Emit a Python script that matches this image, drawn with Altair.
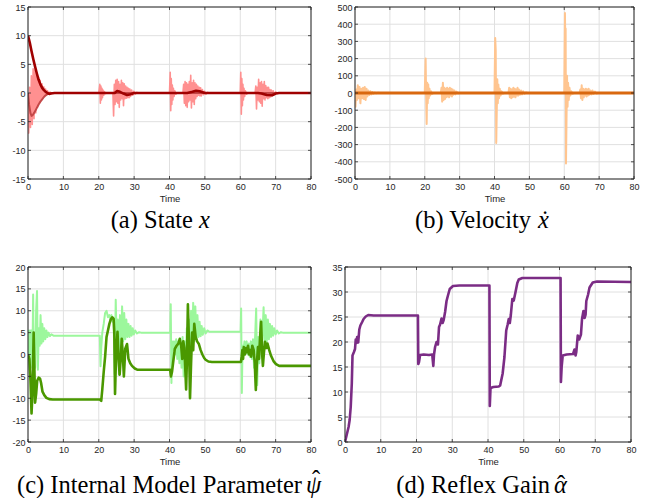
import altair as alt
import pandas as pd

# ---------------- Panel (a) State x ----------------
a_light_t = [0, 0.2, 0.45, 0.7, 0.95, 1.2, 1.45, 1.7, 1.95, 2.2, 2.45, 2.7, 2.95, 3.2, 3.45, 3.7, 3.95, 4.2, 4.45, 4.7, 4.95, 5.2, 5.5, 5.8, 6.2, 6.6, 7.0,
             20.0, 20.3, 20.45, 20.6, 20.75, 20.9, 21.05, 21.2, 21.4, 21.6, 21.9, 22.3,
             24.0, 24.2, 24.4, 24.6, 24.8, 25.0, 25.2, 25.4, 25.6, 25.8, 26.0, 26.2, 26.4, 26.6, 26.8, 27.0, 27.2, 27.4, 27.6, 27.8, 28.0, 28.2, 28.4, 28.6, 28.8, 29.0, 29.3, 29.6, 29.9, 30.3, 30.8, 31.5,
             40.0, 40.2, 40.35, 40.5, 40.65, 40.8, 40.95, 41.1, 41.3, 41.5, 41.8, 42.2,
             43.8, 44.0, 44.2, 44.4, 44.6, 44.8, 45.0, 45.2, 45.4, 45.6, 45.8, 46.0, 46.2, 46.4, 46.6, 46.8, 47.0, 47.2, 47.4, 47.6, 47.8, 48.0, 48.2, 48.4, 48.6, 48.8, 49.0, 49.3, 49.6, 49.9, 50.3, 50.8, 51.4,
             60.0, 60.15, 60.3, 60.45, 60.6, 60.75, 60.9, 61.05, 61.25, 61.45, 61.8, 62.2,
             64.2, 64.4, 64.6, 64.8, 65.0, 65.2, 65.4, 65.6, 65.8, 66.0, 66.2, 66.4, 66.6, 66.8, 67.0, 67.2, 67.4, 67.6, 67.8, 68.0, 68.2, 68.4, 68.6, 68.8, 69.0, 69.3, 69.6, 70.0, 70.4, 71.0, 80.0]
a_light_v = [0, -7, 1, -6, 3, -5.5, 4.2, -4.5, 4, -3.5, 3.5, -2.5, 2.8, -1.8, 2.2, -1.2, 1.6, -0.8, 1.1, -0.5, 0.7, -0.3, 0.4, -0.15, 0.15, 0, 0,
             0, 1.5, -1.8, 1.2, -1.2, 0.8, -0.8, 0.5, -0.4, 0.25, -0.1, 0,
             0, -4.0, 1.5, -2.0, 2.2, -1.5, 2.4, -1.8, 2.0, -2.5, 1.5, -1.2, 2.2, -1.0, 1.8, -2.2, 1.6, -1.0, 1.2, -0.9, 1.0, -0.8, 0.8, -0.8, 0.7, -0.6, 0.5, -0.4, 0.3, -0.2, 0.1, 0,
             0, 3.6, -3.1, 2.5, -2.0, 1.4, -1.2, 0.8, -0.6, 0.4, -0.2, 0,
             0, 1.5, -1.8, 2.0, -2.2, 1.8, -2.5, 1.5, -1.5, 2.0, -1.2, 3.1, -2.6, 1.8, -1.5, 2.2, -2.0, 1.8, -1.0, 1.5, -0.6, 1.2, -0.4, 1.0, -0.5, 0.9, -0.5, 0.6, -0.3, 0.3, -0.2, 0.1, 0,
             0, 3.6, -3.7, 2.5, -2.2, 1.5, -1.2, 0.8, -0.6, 0.4, -0.2, 0,
             0, 1.2, -2.8, 1.0, -1.2, 2.4, -1.5, 1.8, -1.8, 2.0, -2.3, 1.5, -1.0, 2.0, -1.2, 1.3, -0.8, 1.0, -1.0, 1.0, -0.8, 0.6, -0.7, 0.5, -0.5, 0.4, -0.3, 0.2, -0.1, 0, 0]
a_mid_t = [0, 0.3, 0.7, 1.0, 1.4, 2.0, 2.5, 3.0, 3.5, 4.0, 4.5, 5.0, 5.5, 6.0, 7.0, 80.0]
a_mid_v = [0, -2.0, -3.5, -4.0, -3.8, -3.2, -2.6, -2.0, -1.5, -1.1, -0.7, -0.4, -0.2, -0.05, 0, 0]
a_dark_t = [0, 0.5, 1.0, 1.5, 2.0, 2.5, 3.0, 3.5, 4.0, 4.5, 5.0, 5.5, 6.0, 6.5, 7.5, 24.5, 25.2, 26.0, 27.0, 28.0, 29.0, 30.0,
            45.0, 46.5, 47.5, 48.5, 50.0, 65.0, 66.0, 67.5, 69.0, 70.0, 71.0, 80.0]
a_dark_v = [10, 8.8, 7.3, 5.9, 4.6, 3.4, 2.3, 1.5, 0.9, 0.5, 0.2, 0.0, -0.15, -0.1, 0, 0, 0.35, 0.2, -0.1, -0.35, -0.2, 0,
            0, 0.2, 0.4, 0.3, 0, 0, -0.1, -0.35, -0.4, -0.1, 0, 0]

# ---------------- Panel (b) Velocity ----------------
b_light_t = [0, 0.15, 0.35, 0.55, 0.8, 1.05, 1.3, 1.55, 1.8, 2.05, 2.3, 2.55, 2.8, 3.05, 3.3, 3.55, 3.8, 4.1, 4.4, 4.7, 5.0, 5.3, 5.7, 6.1, 6.6, 7.2,
             20.0, 20.25, 20.4, 20.55, 20.7, 20.85, 21.0, 21.15, 21.35, 21.55, 21.8, 22.1, 22.5,
             24.6, 24.8, 25.0, 25.2, 25.4, 25.6, 25.8, 26.0, 26.2, 26.4, 26.6, 26.8, 27.0, 27.2, 27.4, 27.6, 27.8, 28.0, 28.2, 28.5, 28.8, 29.1, 29.5, 30.0,
             40.0, 40.2, 40.35, 40.5, 40.65, 40.8, 40.95, 41.1, 41.3, 41.5, 41.75, 42.0, 42.4, 42.8,
             44.0, 44.2, 44.4, 44.6, 44.8, 45.0, 45.2, 45.4, 45.6, 45.8, 46.0, 46.2, 46.4, 46.6, 46.8, 47.0, 47.3, 47.6, 47.9, 48.2, 48.6, 49.0, 49.5,
             60.0, 60.2, 60.3, 60.4, 60.5, 60.65, 60.8, 60.95, 61.1, 61.3, 61.5, 61.75, 62.0, 62.4, 62.8,
             64.4, 64.6, 64.8, 65.0, 65.2, 65.4, 65.6, 65.8, 66.0, 66.2, 66.4, 66.6, 66.8, 67.0, 67.2, 67.5, 67.8, 68.1, 68.4, 68.8, 69.2, 69.8, 80.0]
b_light_v = [0, -80, 20, -40, 45, -30, 35, -60, 25, -30, 30, -35, 35, -40, 25, -20, 15, -12, 10, -8, 6, -4, 3, -2, 1, 0,
             0, 200, -20, -180, 60, -60, 50, -30, 25, -15, 10, -5, 0,
             0, 30, -50, 60, -40, 30, -35, 25, -25, 30, -20, 25, -25, 30, -15, 25, -20, 20, -10, 15, -8, 8, -3, 0,
             0, 320, 250, -290, -100, 80, -60, 50, -30, 25, -15, 10, -4, 0,
             0, 30, -25, 25, -30, 20, -25, 30, -20, 25, -25, 20, -15, 30, -15, 20, -10, 15, -8, 10, -4, 3, 0,
             0, 465, 300, 375, -410, -150, 100, -80, 60, -40, 30, -15, 10, -4, 0,
             0, 20, -30, 45, -40, 25, -25, 20, -15, 25, -20, 20, -15, 25, -10, 15, -8, 15, -5, 8, -3, 0, 0]
b_dark_t = [0, 20, 40, 60, 80]
b_dark_v = [0, 0, 0, 0, 0]

# ---------------- Panel (c) Internal Model Parameter ----------------
c_light_t = [0, 0.25, 0.45, 0.65, 0.85, 1.05, 1.25, 1.45, 1.65, 1.85, 2.05, 2.3, 2.55, 2.8, 3.05, 3.3, 3.55, 3.8, 4.05, 4.3, 4.6, 4.9, 5.2, 5.5, 5.8, 6.2, 6.6, 7.2,
             20.3, 20.5, 20.7, 21.0, 21.4, 21.8, 22.2, 22.6, 23.0, 23.3, 23.6, 23.9, 24.2, 24.5, 24.8, 25.1, 25.4, 25.7, 26.0, 26.3, 26.6, 26.9, 27.2, 27.5, 27.8, 28.1, 28.4, 28.7, 29.0, 29.3, 29.6, 29.9, 30.3, 30.8, 31.4, 32.0,
             40.2, 40.35, 40.55, 40.75, 41.0, 41.3, 41.6, 41.9, 42.2, 42.5, 42.8, 43.1, 43.4, 43.7, 44.0, 44.3, 44.6, 44.9, 45.2, 45.5, 45.8, 46.1, 46.4, 46.7, 47.0, 47.3, 47.6, 47.9, 48.2, 48.5, 48.8, 49.1, 49.4, 49.8, 50.2, 50.7, 51.3,
             60.1, 60.25, 60.45, 60.65, 60.9, 61.2, 61.5, 61.8, 62.1, 62.4, 62.7, 63.0, 63.3, 63.6, 63.9, 64.2, 64.5, 64.8, 65.1, 65.4, 65.7, 66.0, 66.3, 66.6, 66.9, 67.2, 67.5, 67.8, 68.1, 68.4, 68.7, 69.0, 69.3, 69.6, 70.0, 70.4, 70.9, 71.5, 72.0, 80.0]
c_light_v = [0, 5.5, -3.5, 5.5, -3.0, 5.5, -2.0, 13.7, -3.5, 4.0, -3.0, 10.0, 14.5, -3.5, 6.0, 2.0, 9.0, 2.5, 7.0, 3.0, 6.0, 3.5, 5.5, 4.0, 5.0, 4.2, 4.6, 4.3,
             4.3, -2.7, 1.5, 5.0, 7.0, 9.5, 10.0, 8.5, 9.0, 8.0, 9.0, 7.5, 8.0, -4.5, 12.5, 2.0, 8.0, -4.5, 9.0, 0.5, 11.0, 3.0, 9.5, 3.5, 8.0, 4.0, 7.0, 4.0, 6.5, 4.3, 6.0, 4.6, 5.5, 4.8, 5.1, 5.0,
             5.0, 11.5, -6.5, 3.0, 1.0, 3.0, 0.0, 3.5, -1.0, 3.0, -2.0, 2.5, -3.0, 4.0, -5.0, 3.0, -2.0, 6.0, 0.0, 8.0, 1.0, 10.0, 2.0, 11.8, 3.0, 11.0, 3.5, 9.0, 4.0, 7.5, 4.2, 6.5, 4.5, 6.0, 4.8, 5.5, 5.2,
             5.2, 10.5, -8.8, 2.0, 1.0, 3.0, 0.5, 3.0, 0.0, 2.5, -0.5, 3.0, -1.0, 3.5, -3.0, 4.0, 10.5, -7.0, 4.0, -2.0, 8.0, 1.0, 5.0, 10.8, 2.0, 9.0, 3.0, 8.0, 3.5, 7.0, 4.0, 6.5, 4.3, 6.0, 4.6, 5.5, 4.8, 5.1, 5.0, 5.0]
c_dark_t = [0, 0.4, 0.7, 1.0, 1.3, 1.6, 1.8, 2.0, 2.3, 2.6, 3.0, 3.4, 3.7, 4.1, 4.6, 5.2, 6.0, 7.0,
            20.3, 20.7, 21.0, 21.4, 21.8, 22.2, 22.6, 23.0, 23.4, 23.8, 24.2, 24.4, 24.6, 24.9, 25.3, 25.6, 25.9, 26.2, 26.5, 26.8, 27.1, 27.5, 28.0, 28.4, 28.9, 29.4, 30.2, 31.0,
            40.2, 40.4, 40.7, 41.0, 41.5, 42.0, 42.5, 42.9, 43.3, 43.6, 43.9, 44.2, 44.5, 44.7, 44.9, 45.2, 45.5, 45.8, 46.1, 46.4, 46.7, 47.0, 47.4, 47.8, 48.3, 48.8, 49.3, 49.8, 50.2, 51.0, 52.0,
            60.2, 60.4, 60.6, 60.8, 61.0, 61.3, 61.6, 61.9, 62.2, 62.5, 62.8, 63.1, 63.4, 63.8, 64.1, 64.4, 64.7, 65.0, 65.3, 65.6, 65.9, 66.2, 66.4, 66.7, 67.0, 67.4, 67.7, 68.2, 68.7, 69.4, 70.1, 71.0, 80.0]
c_dark_v = [0, -1.0, -6.0, -13.5, -8.0, 5.0, -3.0, -11.0, -9.0, -6.0, -5.3, -5.5, -6.5, -8.5, -9.3, -9.9, -10.2, -10.3,
            -10.3, -10.6, -8.0, -4.0, -0.5, 4.0, 5.5, 7.0, 8.0, 8.5, 8.2, 5.0, -9.0, 0.0, 5.2, -1.0, -4.6, -1.0, 3.6, 0.0, -5.0, 1.3, 2.4, -1.0, -2.0, -2.6, -3.2, -3.5,
            -3.5, -5.0, -4.0, -2.0, 1.3, 2.0, 2.5, 3.6, 2.0, -1.0, 3.0, 1.5, -4.0, -8.0, -2.0, 11.5, 3.0, -10.0, -2.0, 5.0, 1.0, 7.0, 4.0, 3.0, 2.4, 1.0, 0.0, -0.8, -1.2, -1.6, -1.7,
            -1.7, -0.5, 1.0, -1.0, 1.7, 0.0, 1.5, 0.5, 2.0, 0.0, 1.0, -0.5, 2.0, 1.0, -2.0, -8.1, -2.0, 1.7, -1.0, 4.0, 7.5, 0.0, -2.6, 0.5, 2.9, 1.5, 2.5, 1.0, -0.3, -1.5, -2.2, -2.6, -2.6]

# ---------------- Panel (d) Reflex Gain ----------------
d_t = [0, 0.5, 1.0, 1.3, 1.6, 1.9, 2.1, 2.5, 2.8, 3.0, 3.2, 3.4, 3.7, 4.0, 4.3, 4.8, 5.2, 5.8, 6.5, 8.0,
       20.4, 20.5, 20.7, 21.0, 22.0, 23.5, 24.4, 24.7, 24.9, 25.2, 25.6, 26.0, 26.3, 26.6, 27.0, 27.3, 27.6, 28.0, 28.4, 28.8, 29.3, 30.2, 32.0,
       40.4, 40.5, 40.7, 41.5, 43.0, 43.4, 44.1, 44.6, 45.1, 45.5, 45.8, 46.1, 46.4, 46.8, 47.2, 47.7, 48.2, 48.6, 49.6,
       60.3, 60.4, 60.6, 60.9, 62.0, 63.8, 64.2, 64.5, 64.7, 65.1, 65.5, 66.0, 66.3, 66.7, 67.0, 67.3, 67.5, 68.0, 68.4, 69.3, 70.5, 80.0]
d_v = [0, 1.5, 3.0, 4.4, 7.0, 11.7, 17.3, 18.0, 18.6, 20.5, 19.8, 21.0, 19.9, 22.5, 23.3, 24.0, 24.6, 25.1, 25.4, 25.3,
       25.3, 15.6, 16.0, 17.4, 17.5, 17.4, 17.5, 15.2, 17.5, 19.0, 20.0, 19.5, 23.0, 23.5, 24.7, 23.8, 24.4, 26.0, 28.2, 29.3, 30.6, 31.2, 31.3,
       31.3, 7.2, 10.8, 11.0, 11.1, 11.3, 13.7, 17.0, 22.3, 23.5, 24.6, 23.8, 25.5, 28.6, 28.3, 30.0, 31.8, 32.5, 32.8,
       32.8, 12.0, 15.0, 17.3, 17.5, 17.6, 18.5, 17.3, 18.0, 21.3, 20.5, 21.5, 24.6, 26.2, 24.8, 25.5, 28.2, 29.5, 30.9, 31.9, 32.1, 32.0]

x_ticks = [0, 10, 20, 30, 40, 50, 60, 70, 80]
a_yticks = [-15, -10, -5, 0, 5, 10, 15]
b_yticks = [-500, -400, -300, -200, -100, 0, 100, 200, 300, 400, 500]
c_yticks = [-20, -15, -10, -5, 0, 5, 10, 15, 20]
d_yticks = [0, 5, 10, 15, 20, 25, 30, 35]

# caption: roman part, italic symbol, accent placed above the symbol
cap_a = ["(a) State", "x", ""]
cap_b = ["(b) Velocity", "x", "\u02d9"]
cap_c = ["(c) Internal Model Parameter", "\u03c8", "\u02c6"]
cap_d = ["(d) Reflex Gain", "\u03b1", "\u02c6"]

AX = "#262626"
GRID = "#e0e0e0"
CAP_SIZE = 24.5


def xenc():
    return alt.X("t:Q", scale=alt.Scale(domain=[0, 80], nice=False),
                 axis=alt.Axis(values=x_ticks, title="Time", labelFlush=False, tickSize=0,
                               domain=False, grid=False,
                               labelFontSize=9, titleFontSize=9.5,
                               labelPadding=3, titlePadding=2,
                               labelExpr="'' + datum.value"))


def yenc(dom, ticks):
    return alt.Y("v:Q", scale=alt.Scale(domain=dom, nice=False),
                 axis=alt.Axis(values=ticks, title=None, tickSize=0, domain=False, grid=False,
                               labelFontSize=9, labelPadding=3, labelFlush=False,
                               labelExpr="'' + datum.value"))


def frame(dom, yticks, W, H):
    """grid lines drawn under the data"""
    xg = pd.DataFrame({"t": x_ticks})
    yg = pd.DataFrame({"v": yticks})
    vgrid = alt.Chart(xg).mark_rule(color=GRID, strokeWidth=1).encode(
        x=xenc(), y=alt.value(0), y2=alt.value(H))
    hgrid = alt.Chart(yg).mark_rule(color=GRID, strokeWidth=1).encode(
        y=yenc(dom, yticks), x=alt.value(0), x2=alt.value(W))
    return alt.layer(vgrid, hgrid)


def ticks_box(dom, yticks, W, H):
    """inward ticks on all four sides and the box around the plot area"""
    xg = pd.DataFrame({"t": x_ticks})
    yg = pd.DataFrame({"v": yticks})
    L = 3
    parts = [
        alt.Chart(xg).mark_rule(color=AX, strokeWidth=0.8).encode(
            x=xenc(), y=alt.value(H), y2=alt.value(H - L)),
        alt.Chart(xg).mark_rule(color=AX, strokeWidth=0.8).encode(
            x=xenc(), y=alt.value(0), y2=alt.value(L)),
        alt.Chart(yg).mark_rule(color=AX, strokeWidth=0.8).encode(
            y=yenc(dom, yticks), x=alt.value(0), x2=alt.value(L)),
        alt.Chart(yg).mark_rule(color=AX, strokeWidth=0.8).encode(
            y=yenc(dom, yticks), x=alt.value(W), x2=alt.value(W - L)),
        alt.Chart(pd.DataFrame({"k": [0]})).mark_rect(
            fill=None, fillOpacity=0, stroke=AX, strokeWidth=1).encode(
            x=alt.value(0), x2=alt.value(W), y=alt.value(0), y2=alt.value(H)),
    ]
    return alt.layer(*parts)


def line(t, v, color, width, dom, ticks):
    df = pd.DataFrame({"t": t, "v": v})
    return alt.Chart(df).mark_line(color=color, strokeWidth=width, clip=True,
                                   strokeJoin="round").encode(x=xenc(), y=yenc(dom, ticks))


def caption(cap, x_end, x_start, y, acc_dx, acc_dy):
    layers = []
    specs = [(cap[0], "right", "normal", x_end, y),
             (cap[1], "left", "italic", x_start, y)]
    if cap[2]:
        specs.append((cap[2], "center", "normal", x_start + acc_dx, y + acc_dy))
    for s, al, st, xx, yy in specs:
        df = pd.DataFrame({"s": [s]})
        layers.append(alt.Chart(df).mark_text(
            font="Liberation Serif", fontSize=CAP_SIZE, align=al, fontStyle=st,
            baseline="alphabetic", color="black").encode(
            text="s:N", x=alt.value(xx), y=alt.value(yy)))
    return alt.layer(*layers)


HA, HB, HC, HD = 172, 172, 175, 175
WA, WB, WC, WD = 283, 279, 283, 286

pa = alt.layer(
    frame([-15, 15], a_yticks, WA, HA),
    line(a_light_t, a_light_v, "#ff9090", 1.6, [-15, 15], a_yticks),
    line(a_mid_t, a_mid_v, "#c44848", 2.0, [-15, 15], a_yticks),
    line(a_dark_t, a_dark_v, "#a00000", 2.6, [-15, 15], a_yticks),
    ticks_box([-15, 15], a_yticks, WA, HA),
    caption(cap_a, 165, 171, HA + 49, 0, 0),
).properties(width=WA, height=HA)

pb = alt.layer(
    frame([-500, 500], b_yticks, WB, HB),
    line(b_light_t, b_light_v, "#ffc590", 2.0, [-500, 500], b_yticks),
    line(b_dark_t, b_dark_v, "#d9680f", 3.0, [-500, 500], b_yticks),
    ticks_box([-500, 500], b_yticks, WB, HB),
    caption(cap_b, 176, 183, HB + 49, 7, 0),
).properties(width=WB, height=HB)

pc = alt.layer(
    frame([-20, 20], c_yticks, WC, HC),
    line(c_light_t, c_light_v, "#9cf79c", 2.0, [-20, 20], c_yticks),
    line(c_dark_t, c_dark_v, "#4a9800", 2.6, [-20, 20], c_yticks),
    ticks_box([-20, 20], c_yticks, WC, HC),
    caption(cap_c, 274, 278, HC + 51, 10, -5),
).properties(width=WC, height=HC)

pd_ = alt.layer(
    frame([0, 35], d_yticks, WD, HD),
    line(d_t, d_v, "#7b2c85", 2.6, [0, 35], d_yticks),
    ticks_box([0, 35], d_yticks, WD, HD),
    caption(cap_d, 205, 209, HD + 51, 7, 0),
).properties(width=WD, height=HD)

row1 = alt.hconcat(pa, pb, spacing=16)
row2 = alt.hconcat(pc, pd_, spacing=9)

chart = alt.vconcat(row1, row2, spacing=30).properties(
    padding={"left": 11, "top": 3, "right": 0, "bottom": 0},
    background="white",
).configure_view(
    stroke=None
).configure_axis(
    labelFont="Liberation Sans", titleFont="Liberation Sans", labelColor=AX, titleColor=AX,
    titleFontWeight="normal"
)

chart.save("out.html", embed_options={"renderer": "svg", "actions": False})
